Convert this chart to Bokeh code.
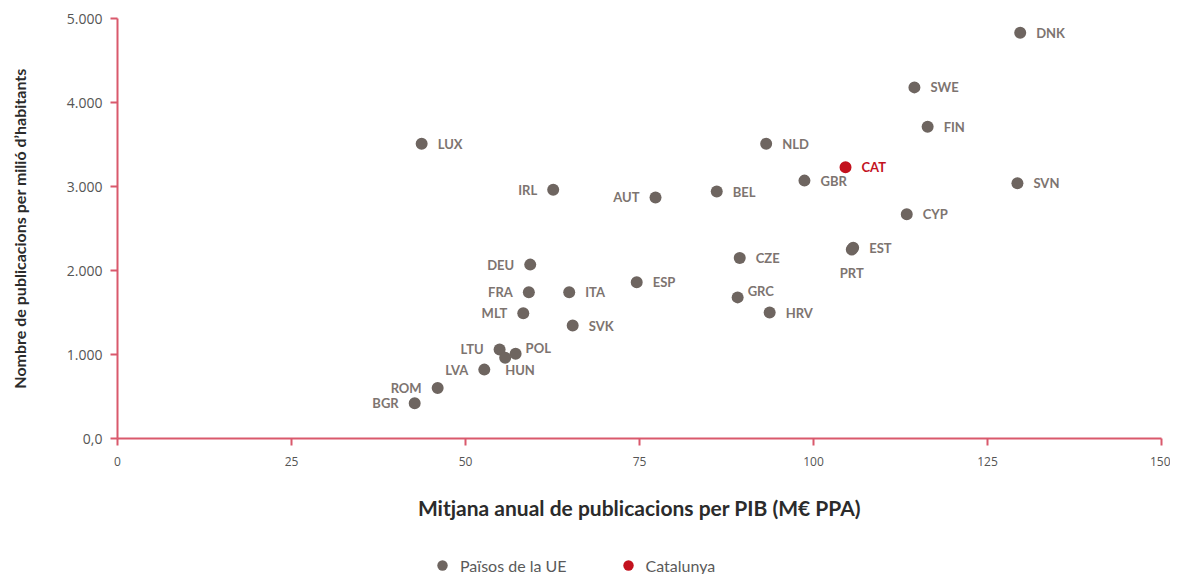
from bokeh.plotting import figure
from bokeh.layouts import column
from bokeh.models import ColumnDataSource, FixedTicker, Legend, LegendItem
from bokeh.core.properties import value
from bokeh.embed import file_html
from bokeh.resources import INLINE

# ---- data ----
countries = ["DNK", "SWE", "FIN", "LUX", "NLD", "GBR", "SVN", "IRL", "BEL", "AUT",
             "CYP", "EST", "PRT", "CZE", "DEU", "ESP", "FRA", "ITA", "GRC", "MLT",
             "HRV", "SVK", "LTU", "POL", "HUN", "LVA", "ROM", "BGR"]
pub_per_gdp = [129.7, 114.5, 116.4, 43.7, 93.2, 98.7, 129.3, 62.6, 86.1, 77.3,
               113.4, 105.7, 105.5, 89.4, 59.3, 74.6, 59.1, 64.9, 89.1, 58.3,
               93.7, 65.4, 54.9, 57.2, 55.7, 52.7, 46.0, 42.7]
pub_per_million = [4830, 4180, 3710, 3510, 3510, 3070, 3040, 2960, 2940, 2870,
                   2670, 2270, 2250, 2150, 2070, 1860, 1740, 1740, 1680, 1490,
                   1500, 1345, 1060, 1010, 960, 820, 600, 420]
cat_name = ["CAT"]
cat_pub_per_gdp = [104.6]
cat_pub_per_million = [3230]

x_ticks = [0, 25, 50, 75, 100, 125, 150]
y_ticks = [0, 1000, 2000, 3000, 4000, 5000]
y_tick_labels = ["0,0", "1.000", "2.000", "3.000", "4.000", "5.000"]
series_names = ["Països de la UE", "Catalunya"]

# ---- label placement (style only) ----
label_place = {
    "IRL": "left", "AUT": "left", "DEU": "left", "FRA": "left",
    "MLT": "left", "LTU": "left", "LVA": "left", "ROM": "left",
    "BGR": "left", "PRT": "below", "GRC": "right_up",
    "POL": "right_up", "HUN": "under",
}

POINT = "#6e6560"
RED = "#c3121e"
AXIS = "#d9596c"
LABEL = "#7d7470"

def offsets(name):
    side = label_place.get(name, "right")
    if side == "left":
        return -16, 0, "right"
    if side == "below":
        return 0, 23, "center"
    if side == "right_up":
        return 10, -6, "left"
    if side == "under":
        return 0, 12, "left"
    return 16, 0, "left"

xo, yo, al = zip(*[offsets(c) for c in countries])
src = ColumnDataSource(dict(x=pub_per_gdp, y=pub_per_million, name=countries,
                            xo=list(xo), yo=list(yo), al=list(al)))
cat_src = ColumnDataSource(dict(x=cat_pub_per_gdp, y=cat_pub_per_million, name=cat_name))

p = figure(width=1170, height=530, output_backend="svg", toolbar_location=None,
           x_range=(0, 150), y_range=(0, 5000),
           min_border_left=117, min_border_right=9, min_border_top=18, min_border_bottom=92)
p.outline_line_color = None
p.grid.grid_line_color = None
p.background_fill_color = "white"

p.scatter("x", "y", source=src, size=12, color=POINT, line_color=None)
p.scatter("x", "y", source=cat_src, size=12, color=RED, line_color=None)

p.text("x", "y", text="name", source=src, x_offset="xo", y_offset="yo",
       text_align="al", text_baseline="middle", text_color=LABEL,
       text_font=value("Lato"), text_font_style="bold", text_font_size="13px")
p.text("x", "y", text="name", source=cat_src, x_offset=16, y_offset=0,
       text_align="left", text_baseline="middle", text_color=RED,
       text_font=value("Lato"), text_font_style="bold", text_font_size="13px")

for ax in (p.xaxis[0], p.yaxis[0]):
    ax.axis_line_color = AXIS
    ax.axis_line_width = 2
    ax.major_tick_line_color = AXIS
    ax.major_tick_line_width = 2
    ax.major_tick_in = 0
    ax.major_tick_out = 7
    ax.minor_tick_line_color = None
    ax.major_label_text_color = "#555555"
    ax.axis_label_text_color = "#2b2b2b"
    ax.axis_label_text_font = "Lato"
    ax.axis_label_text_font_style = "bold"

p.xaxis.ticker = FixedTicker(ticks=x_ticks)
p.xaxis.major_label_text_font = "Open Sans"
p.xaxis.major_label_text_font_size = "12px"
p.xaxis.major_label_standoff = 11
p.xaxis.axis_label = "Mitjana anual de publicacions per PIB (M€ PPA)"
p.xaxis.axis_label_text_font_size = "21px"
p.xaxis.axis_label_standoff = 26

p.yaxis.ticker = FixedTicker(ticks=y_ticks)
p.yaxis.major_label_overrides = {t: l for t, l in zip(y_ticks, y_tick_labels)}
p.yaxis.major_label_text_font = "Open Sans"
p.yaxis.major_label_text_font_size = "14px"
p.yaxis.major_label_standoff = 8
p.yaxis.axis_label = "Nombre de publicacions per milió d’habitants"
p.yaxis.axis_label_text_font_size = "16px"
p.yaxis.axis_label_standoff = 35

# ---- legend strip below the chart ----
leg = figure(width=1170, height=44, output_backend="svg", toolbar_location=None,
             x_axis_type=None, y_axis_type=None, x_range=(0, 1), y_range=(0, 1),
             min_border=0)
leg.outline_line_color = None
leg.grid.grid_line_color = None
l_eu = leg.scatter("x", "y", source=src, size=12, color=POINT, line_color=None, visible=False)
l_cat = leg.scatter("x", "y", source=cat_src, size=12, color=RED, line_color=None, visible=False)
legend = Legend(items=[LegendItem(label=series_names[0], renderers=[l_eu]),
                       LegendItem(label=series_names[1], renderers=[l_cat])],
                orientation="horizontal", location=(312, -4),
                border_line_color=None, background_fill_alpha=0,
                padding=0, margin=0, spacing=48, glyph_width=26, glyph_height=26,
                label_standoff=5, label_text_font="Lato", label_text_font_size="16px",
                label_text_color="#5a5a5a")
leg.add_layout(legend, "center")

layout = column(p, leg, spacing=0)
open("out.html", "w").write(file_html(layout, INLINE))
